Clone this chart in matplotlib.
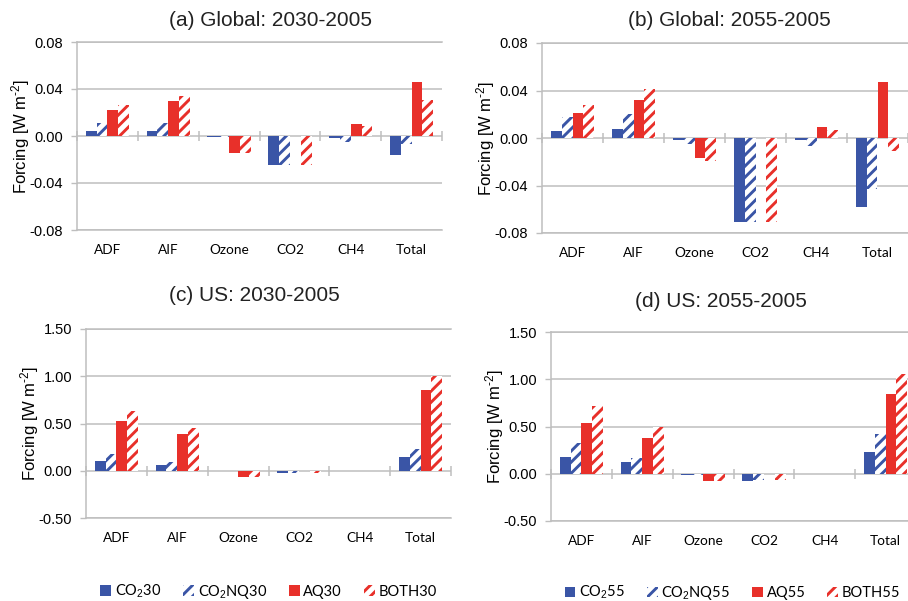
import matplotlib
matplotlib.use("Agg")
import matplotlib.pyplot as plt
import numpy as np

categories = ["ADF", "AIF", "Ozone", "CO2", "CH4", "Total"]

# (a) Global: 2030-2005
a_co2 = [0.0045, 0.0045, -0.0005, -0.025, -0.0015, -0.016]
a_co2nq = [0.011, 0.011, -0.0005, -0.025, -0.0055, -0.007]
a_aq = [0.022, 0.0295, -0.0147, 0.0, 0.010, 0.046]
a_both = [0.026, 0.034, -0.0147, -0.025, 0.0085, 0.0305]

# (b) Global: 2055-2005
b_co2 = [0.006, 0.008, -0.002, -0.071, -0.0015, -0.0585]
b_co2nq = [0.018, 0.020, -0.005, -0.071, -0.007, -0.043]
b_aq = [0.021, 0.032, -0.017, 0.0, 0.009, 0.047]
b_both = [0.028, 0.041, -0.019, -0.071, 0.007, -0.011]

# (c) US: 2030-2005
c_co2 = [0.10, 0.06, -0.005, -0.028, -0.005, 0.147]
c_co2nq = [0.175, 0.09, -0.005, -0.028, -0.005, 0.23]
c_aq = [0.53, 0.385, -0.07, 0.0, -0.005, 0.85]
c_both = [0.63, 0.45, -0.07, -0.028, -0.005, 1.00]

# (d) US: 2055-2005
d_co2 = [0.18, 0.12, -0.01, -0.074, -0.005, 0.23]
d_co2nq = [0.33, 0.17, -0.015, -0.07, -0.005, 0.42]
d_aq = [0.54, 0.375, -0.074, 0.0, -0.005, 0.84]
d_both = [0.72, 0.50, -0.08, -0.07, -0.005, 1.06]

labels_30 = [r"CO$_2$30", r"CO$_2$NQ30", "AQ30", "BOTH30"]
labels_55 = [r"CO$_2$55", r"CO$_2$NQ55", "AQ55", "BOTH55"]

global_ticks = [-0.08, -0.04, 0.0, 0.04, 0.08]
us_ticks = [-0.50, 0.0, 0.50, 1.00, 1.50]

BLUE = "#3A55A6"
RED = "#E8302A"
GRID = "#BEBEBE"

plt.rcParams["hatch.linewidth"] = 2.1
plt.rcParams["axes.unicode_minus"] = False
plt.rcParams["mathtext.fontset"] = "custom"
plt.rcParams["mathtext.rm"] = "Liberation Sans"
plt.rcParams["mathtext.it"] = "Liberation Sans:italic"

fig = plt.figure(figsize=(9.08, 6.01), dpi=100)
W, H = 908.0, 601.0


def add_axes(left, top, width, height):
    return fig.add_axes([left / W, 1 - (top + height) / H, width / W, height / H])


def panel(ax, series, labels, ticks, title, title_xy, legend_xy=None):
    x = np.arange(len(categories))
    w = 0.178
    styles = [
        dict(color=BLUE),
        dict(facecolor="white", edgecolor=BLUE, hatch="///", linewidth=0),
        dict(color=RED),
        dict(facecolor="white", edgecolor=RED, hatch="///", linewidth=0),
    ]
    handles = []
    for k, (vals, st, lab) in enumerate(zip(series, styles, labels)):
        b = ax.bar(x + (k - 1.5) * w, vals, w, label=lab, zorder=3, **st)
        handles.append(b)

    ax.set_xlim(-0.5, len(categories) - 0.5)
    ax.set_ylim(ticks[0], ticks[-1])
    ax.set_yticks(ticks)
    ax.set_yticklabels([f"{t:.2f}" for t in ticks], fontsize=10.5,
                       family="Liberation Sans")
    ax.set_xticks(x)
    ax.set_xticklabels(categories, fontsize=9.8, family="Lato")
    ax.tick_params(axis="x", length=0, pad=10)
    ax.tick_params(axis="y", length=4, color=GRID, width=1, pad=6)

    ax.grid(axis="y", color=GRID, linewidth=1.1, zorder=0)
    ax.spines["right"].set_visible(False)
    for s in ("left", "top", "bottom"):
        ax.spines[s].set_color(GRID)
        ax.spines[s].set_linewidth(1.1)

    # category separators on the zero line
    bounds = np.arange(len(categories) + 1) - 0.5
    ax.plot(bounds, np.zeros_like(bounds), linestyle="none", marker="|",
            markersize=7, markeredgewidth=1.1, color=GRID, zorder=2,
            clip_on=False)

    ax.set_ylabel(r"Forcing [W m$^{\text{-2}}$]", fontsize=12,
                  family="Liberation Sans", labelpad=0)
    ax.yaxis.set_label_coords(-0.122, 0.5)

    ax.text(title_xy[0], title_xy[1], title, transform=ax.transAxes,
            ha="center", va="center", fontsize=15, family="Liberation Sans",
            color="#222222")

    if legend_xy is not None:
        ax.legend(handles=handles, loc="center", bbox_to_anchor=legend_xy,
                  ncol=4, frameon=False, handlelength=0.75, handleheight=0.75,
                  handletextpad=0.25, columnspacing=1.5,
                  prop=dict(family="Lato", size=10.5))


ax_a = add_axes(77, 42, 365, 188)
panel(ax_a, [a_co2, a_co2nq, a_aq, a_both], labels_30, global_ticks,
      "(a) Global: 2030-2005", (0.529, 1.117))

ax_b = add_axes(542, 43, 366, 190)
panel(ax_b, [b_co2, b_co2nq, b_aq, b_both], labels_55, global_ticks,
      "(b) Global: 2055-2005", (0.511, 1.121))

ax_c = add_axes(86, 329, 365, 189)
panel(ax_c, [c_co2, c_co2nq, c_aq, c_both], labels_30, us_ticks,
      "(c) US: 2030-2005", (0.46, 1.175), legend_xy=(0.5, -0.39))

ax_d = add_axes(551, 332, 365, 189)
panel(ax_d, [d_co2, d_co2nq, d_aq, d_both], labels_55, us_ticks,
      "(d) US: 2055-2005", (0.466, 1.164), legend_xy=(0.497, -0.381))

fig.savefig("out.png", dpi=100)
